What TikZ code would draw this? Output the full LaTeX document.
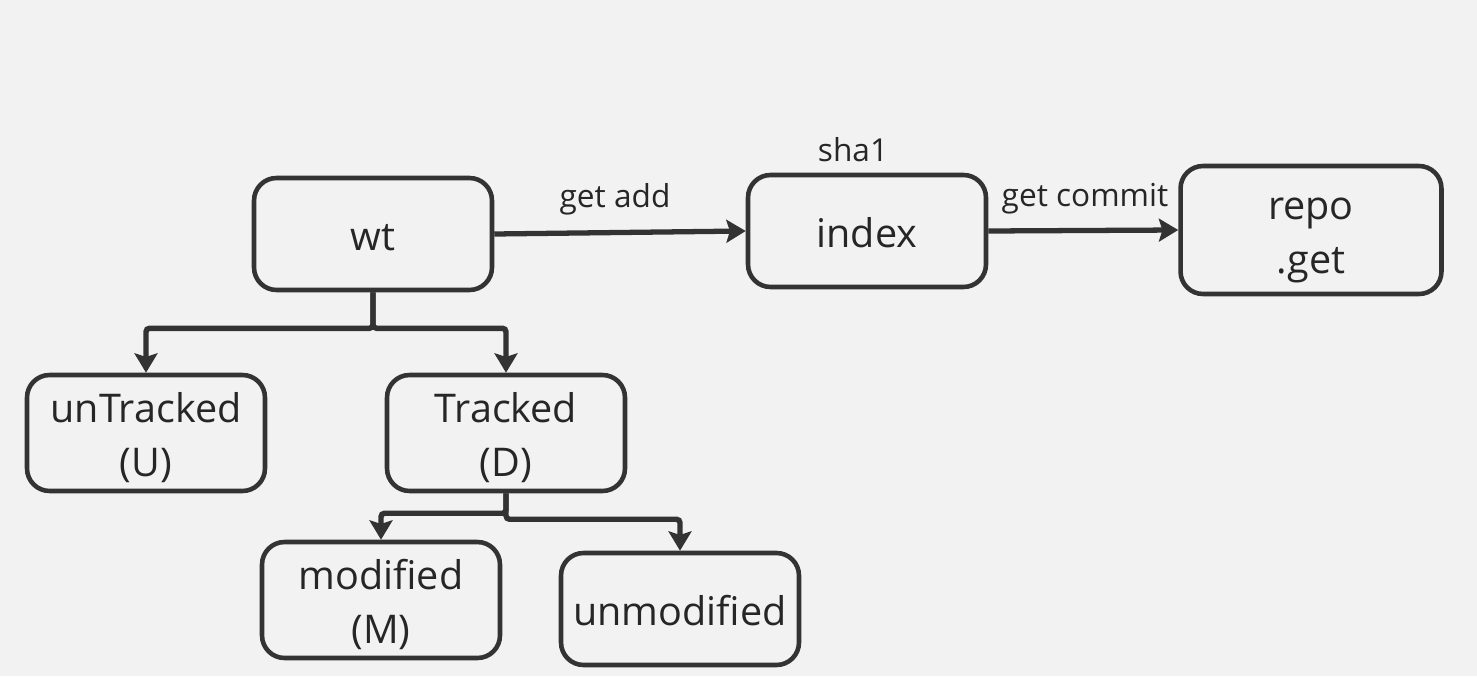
\documentclass[tikz,border=0pt]{standalone}
\usepackage{fontspec}
\setmainfont{Open Sans}
\usepackage{tikz}
\usetikzlibrary{arrows.meta,positioning}
\definecolor{ink}{HTML}{333333}
\definecolor{paper}{HTML}{F2F2F2}
\tikzset{
  stbox/.style={draw=ink, line width=2.6pt, rounded corners=0.45cm, minimum width=4.76cm, minimum height=2.24cm, align=center, inner sep=2pt, text=black!85, font=\fontsize{22.5}{31}\selectfont},
  flow/.style={-{Stealth[length=11pt, width=13pt, inset=2pt]}, line width=3pt, draw=ink},
  branch/.style={-{Stealth[length=11pt, width=13pt, inset=2pt]}, line width=3.1pt, draw=ink, rounded corners=2pt},
  lbl/.style={font=\fontsize{18}{22}\selectfont, text=black!85, inner sep=0pt},
}
\newcommand{\bline}[1]{\raisebox{-3.2pt}[\height][\depth]{\strut#1}}

\begin{document}
\begin{tikzpicture}[x=0.02cm, y=-0.02cm]
\fill[paper] (0,0) rectangle (1477,676);
\useasboundingbox (0,0) rectangle (1477,676);
% --- top row: wt -> index -> repo ---
\node[stbox] (wt) at (373,234) {\bline{wt}};
\node[stbox] (idx) at (867,231) {\bline{index}};
\node[stbox, minimum width=5.22cm, minimum height=2.56cm] (repo) at (1311,230) {\bline{repo}\\\bline{.get}};
\node[lbl] (sha) at (853,150) {sha1};
\node[lbl] (gadd) at (615,199) {get add};
\node[lbl] (gcom) at (1085,199) {get commit};
\draw[flow] (wt.east) -- (idx.west);
\draw[flow] (idx.east) -- (repo.west);
% --- wt splits ---
\node[stbox] (untr) at (146,433) {\bline{unTracked}\\\bline{(U)}};
\node[stbox] (trk) at (506,433) {\bline{Tracked}\\\bline{(D)}};
\draw[branch] (wt.south) -- ++(0,36) -| (untr.north);
\draw[branch] (wt.south) -- ++(0,36) -| (trk.north);
% --- Tracked splits ---
\node[stbox] (mod) at (381,600) {\bline{modified}\\\bline{(M)}};
\node[stbox] (unmod) at (680,609) {\bline{unmodified}};
\draw[branch] (trk.south) -- ++(0,20) -| (mod.north);
\draw[branch] (trk.south) -- ++(0,26) -| (unmod.north);
\end{tikzpicture}
\end{document}
